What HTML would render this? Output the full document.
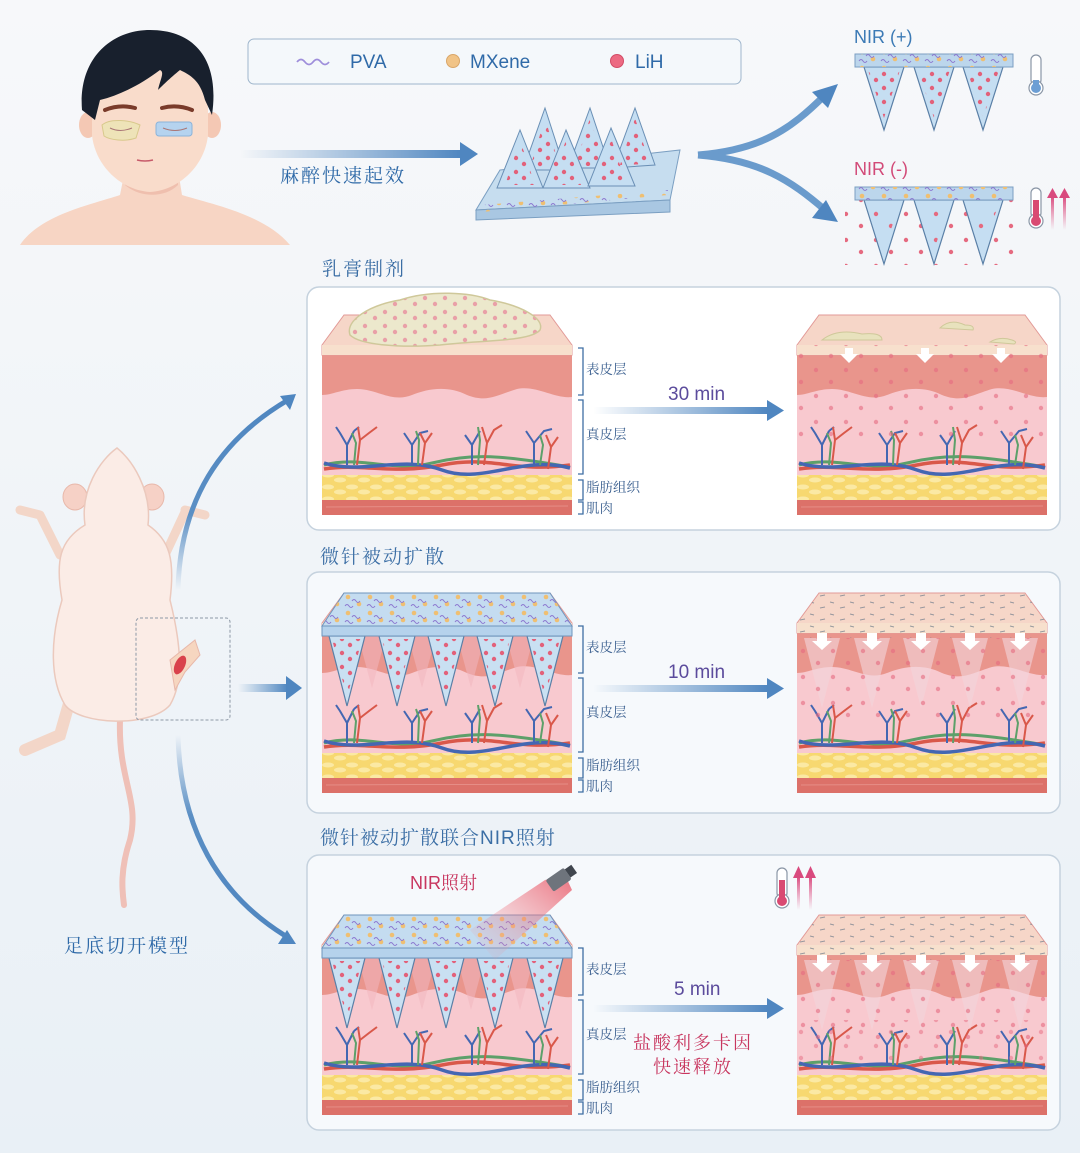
<!DOCTYPE html>
<html><head><meta charset="utf-8">
<style>
html,body{margin:0;padding:0;width:1080px;height:1153px;overflow:hidden;background:#f1f5f9;}
svg{display:block}
.cn{font-family:"Noto Serif CJK SC","Liberation Serif","Noto Sans CJK SC",serif;}
.lat{font-family:"Liberation Sans","Noto Sans CJK SC",sans-serif;}
</style></head>
<body>
<svg width="1080" height="1153" viewBox="0 0 1080 1153" xmlns="http://www.w3.org/2000/svg">
<defs>
  <linearGradient id="bg" x1="0" y1="0" x2="0" y2="1">
    <stop offset="0" stop-color="#f7f8fa"/><stop offset="1" stop-color="#e9f0f6"/>
  </linearGradient>
  <linearGradient id="arr" x1="0" y1="0" x2="1" y2="0">
    <stop offset="0" stop-color="#5b8fc4" stop-opacity="0"/><stop offset="1" stop-color="#4f86c0"/>
  </linearGradient>
  <linearGradient id="arrV" x1="0" y1="0" x2="0" y2="1">
    <stop offset="0" stop-color="#5b8fc4" stop-opacity="0"/><stop offset="0.4" stop-color="#5b8fc4"/><stop offset="1" stop-color="#4f86c0"/>
  </linearGradient>
  <linearGradient id="arrU" x1="0" y1="1" x2="0" y2="0">
    <stop offset="0" stop-color="#5b8fc4" stop-opacity="0"/><stop offset="0.4" stop-color="#5b8fc4"/><stop offset="1" stop-color="#4f86c0"/>
  </linearGradient>
  <linearGradient id="hot" x1="0" y1="1" x2="0" y2="0">
    <stop offset="0" stop-color="#e05a8a" stop-opacity="0"/><stop offset="1" stop-color="#d94a7e"/>
  </linearGradient>
  <linearGradient id="beam" x1="1" y1="0" x2="0" y2="1">
    <stop offset="0" stop-color="#e8505f" stop-opacity="0.8"/><stop offset="1" stop-color="#f4a0a8" stop-opacity="0"/>
  </linearGradient>
  <pattern id="fatp" width="24" height="12" patternUnits="userSpaceOnUse">
    <rect width="24" height="12" fill="#f7d870"/>
    <ellipse cx="6" cy="4" rx="6" ry="2.5" fill="#fbe9a4"/>
    <ellipse cx="18" cy="9" rx="6" ry="2.5" fill="#fbe9a4"/>
  </pattern>
  <pattern id="lih" width="16" height="14" patternUnits="userSpaceOnUse">
    <circle cx="4" cy="4" r="2.2" fill="#e2617a"/>
    <circle cx="12" cy="10" r="2.2" fill="#e2617a"/>
  </pattern>
  <pattern id="lihs" width="30" height="26" patternUnits="userSpaceOnUse">
    <circle cx="6" cy="6" r="2.2" fill="#e56a80"/>
    <circle cx="21" cy="18" r="2.2" fill="#e56a80"/>
  </pattern>
  <pattern id="mx" width="22" height="16" patternUnits="userSpaceOnUse">
    <circle cx="4" cy="4" r="2.3" fill="#efbf72"/>
    <circle cx="15" cy="11" r="2.3" fill="#efbf72"/>
    <path d="M8 8 q2 -3 4 0 t4 0" stroke="#8c78d0" stroke-width="1" fill="none"/>
    <path d="M1 13 q2 -3 4 0 t4 0" stroke="#8c78d0" stroke-width="1" fill="none"/>
  </pattern>
  <pattern id="dash" width="20" height="12" patternUnits="userSpaceOnUse">
    <line x1="3" y1="3" x2="8" y2="2" stroke="#6d7b8a" stroke-width="1"/>
    <line x1="13" y1="9" x2="17" y2="10" stroke="#6d7b8a" stroke-width="1"/>
  </pattern>
  <pattern id="cream" width="20" height="14" patternUnits="userSpaceOnUse">
    <rect width="20" height="14" fill="#ece8cc"/>
    <circle cx="5" cy="4" r="2.2" fill="#e9a0a8"/>
    <circle cx="15" cy="10" r="2.2" fill="#e9a0a8"/>
  </pattern>

  <g id="skin">
    <rect x="0" y="40" width="250" height="160" rx="3" fill="#f8c9cf"/>
    <path d="M0 40 H250 V82 C232 84 215 70 195 74 C175 80 165 88 145 80 C125 70 105 74 90 80 C70 88 55 74 35 74 C20 74 10 80 0 80 Z" fill="#e9958c"/>
    <polygon points="22,0 228,0 250,30 250,40 0,40 0,30" fill="#f6d6c8" stroke="#e29a97" stroke-width="1"/>
    <rect x="0" y="30" width="250" height="10" fill="#f7e0cd"/>
    <rect x="0" y="160" width="250" height="25" fill="url(#fatp)"/>
    <rect x="0" y="185" width="250" height="15" fill="#dc7169"/>
    <line x1="4" y1="192" x2="246" y2="191" stroke="#e99790" stroke-width="0.8"/>
    <path d="M2 150 C40 140 70 158 110 148 S180 140 248 152" stroke="#5da06a" stroke-width="3" fill="none"/>
    <path d="M2 154 C40 148 70 160 120 150 S190 158 248 150" stroke="#d9584a" stroke-width="3.5" fill="none"/>
    <path d="M2 148 C40 160 80 140 120 155 S200 140 248 153" stroke="#4467b2" stroke-width="3.5" fill="none"/>
    <g fill="none" stroke-width="2">
      <path d="M25 150 V130 L18 118 M25 130 L32 116 M18 118 l-4 -6 M32 116 l5 -4" stroke="#4467b2"/>
      <path d="M35 150 L38 125 L36 112 M38 125 L47 118 L55 112" stroke="#d9584a"/>
      <path d="M32 150 L34 128 L30 118" stroke="#5da06a"/>
      <path d="M90 150 V130 L82 118 M90 130 L98 118 L106 116" stroke="#4467b2"/>
      <path d="M100 150 L103 128 L110 118 M103 128 L98 118" stroke="#d9584a"/>
      <path d="M96 150 L97 125 L94 116" stroke="#5da06a"/>
      <path d="M150 150 V130 L143 120 M150 130 L158 116" stroke="#4467b2"/>
      <path d="M162 150 L165 128 L172 115 L180 110 M165 128 L160 112" stroke="#d9584a"/>
      <path d="M156 150 L158 125 L156 112" stroke="#5da06a"/>
      <path d="M212 150 V128 L204 116 M212 128 L222 116 L230 114" stroke="#4467b2"/>
      <path d="M226 154 L229 132 L236 122 M229 132 L224 120" stroke="#d9584a"/>
      <path d="M218 150 L221 130 L218 120" stroke="#5da06a"/>
    </g>
  </g>

  <g id="patch">
    <g fill="#f2b7c0" opacity="0.55">
      <polygon points="36,43 64,43 50,95"/><polygon points="86,43 114,43 100,95"/>
      <polygon points="135,43 163,43 149,95"/><polygon points="184,43 212,43 198,95"/>
    </g>
    <g stroke="#5a7fa6" stroke-width="1.2">
      <polygon points="7,43 43,43 25,113" fill="#c9e0f2"/>
      <polygon points="57,43 93,43 75,113" fill="#c9e0f2"/>
      <polygon points="106,43 142,43 124,113" fill="#c9e0f2"/>
      <polygon points="155,43 191,43 173,113" fill="#c9e0f2"/>
      <polygon points="205,43 241,43 223,113" fill="#c9e0f2"/>
    </g>
    <g fill="url(#lih)">
      <polygon points="10,46 40,46 25,105"/><polygon points="60,46 90,46 75,105"/>
      <polygon points="109,46 139,46 124,105"/><polygon points="158,46 188,46 173,105"/>
      <polygon points="208,46 238,46 223,105"/>
    </g>
    <polygon points="22,0 228,0 250,33 0,33" fill="#c4dcf0" stroke="#6f95bd" stroke-width="1"/>
    <polygon points="22,0 228,0 250,33 0,33" fill="url(#mx)"/>
    <rect x="0" y="33" width="250" height="10" fill="#b5d2ec" stroke="#6f95bd" stroke-width="1"/>
  </g>

  <g id="dissolved">
    <polygon points="22,0 228,0 250,30 250,45 0,45 0,30" fill="url(#dash)" opacity="0.7"/>
    <g fill="#f3d6dc" opacity="0.6">
      <polygon points="7,45 43,45 25,115"/><polygon points="57,45 93,45 75,115"/>
      <polygon points="106,45 142,45 124,115"/><polygon points="155,45 191,45 173,115"/>
      <polygon points="205,45 241,45 223,115"/>
    </g>
    <rect x="0" y="45" width="250" height="80" fill="url(#lihs)" opacity="0.6"/>
    <g fill="#fff">
      <path d="M20 40 h10 v8 h5 l-10 9 l-10 -9 h5z"/><path d="M70 40 h10 v8 h5 l-10 9 l-10 -9 h5z"/>
      <path d="M119 40 h10 v8 h5 l-10 9 l-10 -9 h5z"/><path d="M168 40 h10 v8 h5 l-10 9 l-10 -9 h5z"/>
      <path d="M218 40 h10 v8 h5 l-10 9 l-10 -9 h5z"/>
    </g>
  </g>

  <g id="brk" fill="none" stroke="#3f6ea3" stroke-width="1.3">
    <path d="M0 0 h5 v47 h-5"/>
    <path d="M0 52 h5 v74 h-5"/>
    <path d="M0 132 h5 v20 h-5"/>
    <path d="M0 154 h5 v12 h-5"/>
  </g>
  <g id="brkT" class="cn" font-size="13.5" fill="#3a5f8f">
    <text x="8" y="26">表皮层</text>
    <text x="8" y="91">真皮层</text>
    <text x="8" y="144">脂肪组织</text>
    <text x="8" y="165">肌肉</text>
  </g>
  <g id="therm">
    <rect x="-5" y="0" width="10" height="30" rx="5" fill="#fff" stroke="#8a96a6" stroke-width="1.2"/>
    <circle cx="0" cy="33" r="7" fill="#fff" stroke="#8a96a6" stroke-width="1.2"/>
  </g>
</defs>

<rect width="1080" height="1153" fill="url(#bg)"/>

<!-- Face -->
<g>
  <path d="M20 245 C40 215 90 205 120 195 L125 170 L178 170 L182 195 C215 205 265 215 290 245 Z" fill="#f7d5c4"/>
  <path d="M125 170 C140 190 165 190 178 170 L178 185 C165 198 140 198 125 185 Z" fill="#efbfae"/>
  <ellipse cx="88" cy="125" rx="9" ry="13" fill="#f4c8b4"/>
  <ellipse cx="212" cy="125" rx="9" ry="13" fill="#f4c8b4"/>
  <path d="M92 95 C92 60 120 45 150 45 C180 45 208 60 208 95 L208 135 C205 165 180 190 150 192 C120 190 95 165 92 135 Z" fill="#f9dccb"/>
  <path d="M82 110 C78 60 110 30 150 30 C195 30 220 60 212 115 L205 100 C200 80 190 75 180 70 C170 78 160 88 158 90 C160 80 165 72 160 70 C140 85 120 95 100 100 L95 120 Z" fill="#18202d"/>
  <path d="M105 110 q15 -6 30 -2" stroke="#7a3b2a" stroke-width="4" fill="none" stroke-linecap="round"/>
  <path d="M162 108 q15 -4 30 2" stroke="#7a3b2a" stroke-width="4" fill="none" stroke-linecap="round"/>
  <path d="M102 125 C110 118 130 120 140 125 L136 138 C125 142 110 140 104 136 Z" fill="#eee3b8" stroke="#d8c98c"/>
  <rect x="156" y="122" width="36" height="14" rx="3" fill="#b5d3ef" stroke="#8bb3da"/>
  <path d="M110 128 q10 5 22 0 M163 128 q12 5 24 0" stroke="#a77" stroke-width="1" fill="none"/>
  <path d="M137 160 q8 2 16 0" stroke="#c75b6a" stroke-width="1.5" fill="none"/>
</g>

<rect x="248" y="39" width="493" height="45" rx="6" fill="#f4f8fb" stroke="#9fb6cc" stroke-width="1"/>
<path d="M297 62 q4 -5 8 0 t8 0 t8 0 t8 0" stroke="#9e8edb" stroke-width="1.8" fill="none"/>
<text x="350" y="68" class="lat" font-size="19" fill="#2f6aa8">PVA</text>
<circle cx="453" cy="61" r="6.5" fill="#f1c487" stroke="#d9a76a"/>
<text x="470" y="68" class="lat" font-size="19" fill="#2f6aa8">MXene</text>
<circle cx="617" cy="61" r="6.5" fill="#ec6a82" stroke="#d24c66"/>
<text x="635" y="68" class="lat" font-size="19" fill="#2f6aa8">LiH</text>

<rect x="240" y="150" width="222" height="8" fill="url(#arr)"/>
<polygon points="460,142 478,154 460,166" fill="#4f86c0"/>
<text x="280" y="182" class="cn" font-size="19" fill="#2f6aa8" letter-spacing="2">麻醉快速起效</text>

<g>
  <polygon points="500,170 680,150 670,200 476,210" fill="#c6ddef" stroke="#7b9fc2"/>
  <polygon points="476,210 670,200 670,212 476,220" fill="#a9c7e2" stroke="#7b9fc2"/>
  <polygon points="482,205 668,190 668,195 482,212" fill="url(#mx)"/>
  <g stroke="#6a8fb5" stroke-width="1">
    <polygon points="545,108 523,170 565,170" fill="#c5def2"/>
    <polygon points="590,108 568,168 610,168" fill="#c5def2"/>
    <polygon points="635,108 613,168 655,165" fill="#c5def2"/>
    <polygon points="520,130 497,188 543,188" fill="#c5def2"/>
    <polygon points="566,130 543,188 590,188" fill="#c5def2"/>
    <polygon points="611,128 588,186 635,186" fill="#c5def2"/>
  </g>
  <g fill="url(#lih)">
    <polygon points="545,118 530,168 560,168"/><polygon points="590,118 575,166 605,166"/>
    <polygon points="635,118 620,165 650,164"/><polygon points="520,140 505,185 535,185"/>
    <polygon points="566,140 551,185 581,185"/><polygon points="611,138 596,183 626,183"/>
  </g>
</g>

<path d="M698 155 C760 150 790 130 825 95" stroke="#6a9bcc" stroke-width="7" fill="none"/>
<polygon points="838,84 828,108 812,92" fill="#4f86c0"/>
<path d="M698 155 C760 160 790 180 825 210" stroke="#6a9bcc" stroke-width="7" fill="none"/>
<polygon points="838,222 812,218 826,200" fill="#4f86c0"/>

<text x="854" y="43" class="lat" font-size="18" fill="#3b7ab5">NIR (+)</text>
<g stroke="#5a7fa6" stroke-width="1.2" fill="#c5def2">
  <polygon points="864,67 904,67 884,130"/><polygon points="914,67 954,67 934,130"/><polygon points="963,67 1003,67 983,130"/>
</g>
<g fill="url(#lih)"><polygon points="868,70 900,70 884,118"/><polygon points="918,70 950,70 934,118"/><polygon points="967,70 999,70 983,118"/></g>
<rect x="855" y="54" width="158" height="13" fill="#bcd6ec" stroke="#7b9fc2"/>
<rect x="855" y="54" width="158" height="13" fill="url(#mx)"/>
<use href="#therm" x="1036" y="55"/>
<rect x="1033" y="80" width="6" height="10" fill="#6c9ed4"/><circle cx="1036" cy="88" r="5" fill="#6c9ed4"/>

<text x="854" y="175" class="lat" font-size="18" fill="#d24a78">NIR (-)</text>
<rect x="845" y="195" width="175" height="70" fill="url(#lihs)"/>
<g stroke="#5a7fa6" stroke-width="1.2" fill="#c5def2">
  <polygon points="864,200 904,200 884,264"/><polygon points="914,200 954,200 934,264"/><polygon points="963,200 1003,200 983,264"/>
</g>
<g fill="url(#lihs)"><polygon points="868,203 900,203 884,250"/><polygon points="918,203 950,203 934,250"/><polygon points="967,203 999,203 983,250"/></g>
<rect x="855" y="187" width="158" height="13" fill="#bcd6ec" stroke="#7b9fc2"/>
<rect x="855" y="187" width="158" height="13" fill="url(#mx)"/>
<use href="#therm" x="1036" y="188"/>
<rect x="1033" y="200" width="6" height="22" fill="#d94a72"/><circle cx="1036" cy="221" r="5" fill="#d94a72"/>
<rect x="1051" y="196" width="3" height="34" fill="url(#hot)"/><polygon points="1047,198 1052.5,188 1058,198" fill="#d94a7e"/>
<rect x="1063" y="196" width="3" height="34" fill="url(#hot)"/><polygon points="1059,198 1064.5,188 1070,198" fill="#d94a7e"/>

<!-- Mouse -->
<g>
  <path d="M120 720 C118 780 140 800 130 840 C120 870 122 890 124 905" stroke="#efc0b7" stroke-width="6" fill="none" stroke-linecap="round"/>
  <path d="M40 515 L20 510 M40 515 L60 555" stroke="#f3d6c8" stroke-width="9" stroke-linecap="round"/>
  <path d="M185 510 L205 515 M165 555 L185 512" stroke="#f3d6c8" stroke-width="9" stroke-linecap="round"/>
  <path d="M70 700 L60 735 L25 750" stroke="#f3d6c8" stroke-width="12" fill="none" stroke-linecap="round"/>
  <ellipse cx="75" cy="497" rx="12" ry="13" fill="#f6d1c6" stroke="#e8b8aa"/>
  <ellipse cx="152" cy="497" rx="12" ry="13" fill="#f6d1c6" stroke="#e8b8aa"/>
  <path d="M117 448 C100 460 80 490 85 525 C60 540 55 560 62 600 C50 640 50 680 65 705 C80 725 150 728 170 705 C185 680 180 640 170 600 C175 560 170 540 148 525 C152 490 132 460 117 448 Z" fill="#fbece6" stroke="#ebc9bd" stroke-width="1.5"/>
  <path d="M170 660 L195 640 L200 655 L185 672 L175 690 Z" fill="#f6d6c0" stroke="#e8b8aa"/>
  <ellipse cx="180" cy="665" rx="5" ry="10" transform="rotate(25 180 665)" fill="#d9424b"/>
</g>
<rect x="136" y="618" width="94" height="102" rx="4" fill="none" stroke="#8d98a6" stroke-dasharray="3 2"/>
<text x="64" y="952" class="cn" font-size="19" fill="#2f6aa8" letter-spacing="2">足底切开模型</text>

<path d="M178 590 C180 500 220 440 288 400" stroke="url(#arrU)" stroke-width="5" fill="none"/>
<polygon points="296,394 280,396 290,410" fill="#4f86c0"/>
<rect x="238" y="684" width="50" height="8" fill="url(#arr)"/>
<polygon points="286,676 302,688 286,700" fill="#4f86c0"/>
<path d="M178 735 C180 830 220 895 284 935" stroke="url(#arrV)" stroke-width="5" fill="none"/>
<polygon points="296,944 278,944 287,930" fill="#4f86c0"/>

<!-- Panels -->
<text x="322" y="275" class="cn" font-size="19" fill="#3b6ea5" letter-spacing="2">乳膏制剂</text>
<rect x="307" y="287" width="753" height="243" rx="12" fill="#fff" stroke="#c5d2de" stroke-width="1.5"/>
<text x="320" y="563" class="cn" font-size="19" fill="#3b6ea5" letter-spacing="2">微针被动扩散</text>
<rect x="307" y="572" width="753" height="241" rx="12" fill="#f6f9fc" stroke="#c5d2de" stroke-width="1.5"/>
<text x="320" y="844" class="cn" font-size="19" fill="#3b6ea5" letter-spacing="1"><tspan>微针被动扩散联合</tspan><tspan class="lat">NIR</tspan><tspan>照射</tspan></text>
<rect x="307" y="855" width="753" height="275" rx="12" fill="#f6f9fc" stroke="#c5d2de" stroke-width="1.5"/>

<use href="#skin" x="322" y="315"/>
<path d="M350 335 C345 320 370 305 400 300 C430 290 470 292 490 300 C520 305 545 318 540 330 C530 342 480 340 440 345 C400 348 360 345 350 335 Z" fill="url(#cream)" stroke="#cfc89a" stroke-width="1.5"/>
<use href="#brk" x="578" y="348"/>
<use href="#brkT" x="578" y="348"/>
<rect x="593" y="407" width="175" height="7" fill="url(#arr)"/>
<polygon points="767,400 784,410.5 767,421" fill="#4f86c0"/>
<text x="668" y="400" class="lat" font-size="19" fill="#5b4b9c">30 min</text>
<use href="#skin" x="797" y="315"/>
<rect x="797" y="345" width="249" height="95" fill="url(#lihs)" opacity="0.6"/>
<path d="M822 340 q15 -12 40 -6 q20 -2 20 6 z" fill="#e8e2bd" stroke="#cfc89a"/>
<path d="M940 328 q10 -10 25 -3 q10 0 8 5 z" fill="#e8e2bd" stroke="#cfc89a"/>
<path d="M990 342 q10 -6 22 -2 q6 2 2 4 z" fill="#e8e2bd" stroke="#cfc89a"/>
<g fill="#fff"><path d="M845 348 h8 v6 h5 l-9 9 l-9 -9 h5z"/><path d="M921 348 h8 v6 h5 l-9 9 l-9 -9 h5z"/><path d="M997 348 h8 v6 h5 l-9 9 l-9 -9 h5z"/></g>

<use href="#skin" x="322" y="593"/>
<use href="#patch" x="322" y="593"/>
<use href="#brk" x="578" y="626"/>
<use href="#brkT" x="578" y="626"/>
<rect x="593" y="685" width="175" height="7" fill="url(#arr)"/>
<polygon points="767,678 784,688.5 767,699" fill="#4f86c0"/>
<text x="668" y="678" class="lat" font-size="19" fill="#5b4b9c">10 min</text>
<use href="#skin" x="797" y="593"/>
<use href="#dissolved" x="797" y="593"/>

<use href="#skin" x="322" y="915"/>
<use href="#patch" x="322" y="915"/>
<polygon points="545,880 565,875 572,890 495,960 470,930" fill="url(#beam)"/>
<g transform="rotate(-35 560 880)"><rect x="548" y="872" width="22" height="14" rx="2" fill="#6e747c"/><rect x="570" y="874" width="8" height="10" fill="#40464e"/></g>
<text x="410" y="889" class="lat" font-size="18" fill="#c8365f">NIR<tspan class="cn">照射</tspan></text>
<use href="#brk" x="578" y="948"/>
<use href="#brkT" x="578" y="948"/>
<rect x="593" y="1005" width="175" height="7" fill="url(#arr)"/>
<polygon points="767,998 784,1008.5 767,1019" fill="#4f86c0"/>
<text x="674" y="995" class="lat" font-size="19" fill="#5b4b9c">5 min</text>
<text x="633" y="1049" class="cn" font-size="18" fill="#c8365f" letter-spacing="2">盐酸利多卡因</text>
<text x="653" y="1073" class="cn" font-size="18" fill="#c8365f" letter-spacing="2">快速释放</text>
<use href="#skin" x="797" y="915"/>
<use href="#dissolved" x="797" y="915"/>
<rect x="797" y="1020" width="249" height="50" fill="url(#lihs)" opacity="0.5"/>
<use href="#therm" x="782" y="868"/>
<rect x="779" y="880" width="6" height="22" fill="#d94a72"/><circle cx="782" cy="901" r="5" fill="#d94a72"/>
<rect x="797" y="876" width="3" height="34" fill="url(#hot)"/><polygon points="793,878 798.5,866 804,878" fill="#d94a7e"/>
<rect x="809" y="876" width="3" height="34" fill="url(#hot)"/><polygon points="805,878 810.5,866 816,878" fill="#d94a7e"/>
</svg>
</body></html>
